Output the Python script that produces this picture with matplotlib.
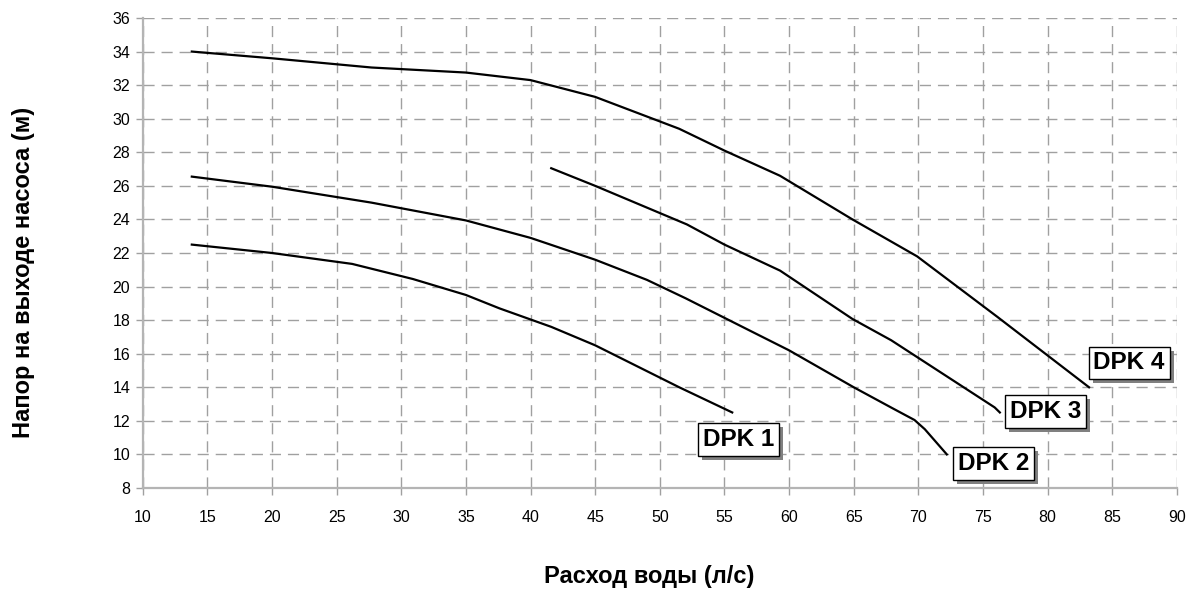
import matplotlib.pyplot as plt
import matplotlib.patheffects as pe

plt.rcParams['font.family'] = ['Liberation Sans', 'DejaVu Sans']

# напорные характеристики насосов (расход л/с, напор м)
dpk1_q = [13.8, 20, 26.2, 30.9, 35, 37.6, 41.6, 45, 51.5, 55.6]
dpk1_h = [22.5, 22.0, 21.35, 20.45, 19.5, 18.7, 17.6, 16.5, 14.0, 12.5]

dpk2_q = [13.8, 20, 27.7, 35, 40, 45, 49, 52, 56.9, 60, 65, 68, 69.7, 70.5, 72.2]
dpk2_h = [26.55, 25.95, 25.0, 23.94, 22.9, 21.6, 20.4, 19.3, 17.4, 16.2, 14.0, 12.75, 12.05, 11.5, 10.0]

dpk3_q = [41.6, 45, 52.1, 55, 59.3, 64.9, 67.9, 71.1, 75.9, 76.3]
dpk3_h = [27.05, 26.0, 23.7, 22.5, 20.95, 18.07, 16.8, 15.2, 12.8, 12.5]

dpk4_q = [13.8, 20, 27.7, 35, 40, 42, 45, 51.5, 55, 59.3, 64.9, 69.9, 76.1, 83.2]
dpk4_h = [34.0, 33.6, 33.05, 32.75, 32.3, 31.9, 31.3, 29.4, 28.1, 26.6, 24.0, 21.8, 18.2, 14.0]

labels = ["DPK 1", "DPK 2", "DPK 3", "DPK 4"]
label_pos = [(56.1, 10.9), (75.8, 9.45), (79.85, 12.55), (86.3, 15.45)]

fig = plt.figure(figsize=(11.88, 5.90), dpi=100)
ax = fig.add_axes([0.1201, 0.1729, 0.8706, 0.7966])

for q, h in [(dpk1_q, dpk1_h), (dpk2_q, dpk2_h), (dpk3_q, dpk3_h), (dpk4_q, dpk4_h)]:
    ax.plot(q, h, color="black", linewidth=1.6, zorder=3)

shadow = [pe.withSimplePatchShadow(offset=(3, -3), shadow_rgbFace="#808080", alpha=1.0)]
for txt, (lx, ly) in zip(labels, label_pos):
    ax.text(lx, ly, txt, ha="center", va="center", fontsize=17.5, fontweight="bold",
            zorder=5,
            bbox=dict(boxstyle="square,pad=0.2", facecolor="white", edgecolor="black",
                      linewidth=1.0, path_effects=shadow))

ax.set_xlim(10, 90)
ax.set_ylim(8, 36)
ax.set_xticks(range(10, 91, 5))
ax.set_yticks(range(8, 37, 2))
ax.tick_params(axis="both", direction="out", length=5, width=1, color="#a0a0a0",
               labelsize=11.5, pad=4)
ax.tick_params(axis="x", pad=11)

ax.grid(True, color="#a0a0a0", linestyle=(0, (8, 5)), linewidth=1.0)
ax.set_axisbelow(True)
for s in ["top", "right"]:
    ax.spines[s].set_visible(False)
for s in ["left", "bottom"]:
    ax.spines[s].set_color("#b4b4b4")
    ax.spines[s].set_linewidth(1.6)

fig.text(649 / 1188, 1 - 577 / 590, "Расход воды (л/с)", ha="center", va="center",
         fontsize=17, fontweight="bold")
fig.text(24 / 1188, 1 - 272 / 590, "Напор на выходе насоса (м)", ha="center", va="center",
         rotation=90, fontsize=17, fontweight="bold")

fig.savefig("out.png", dpi=100)
